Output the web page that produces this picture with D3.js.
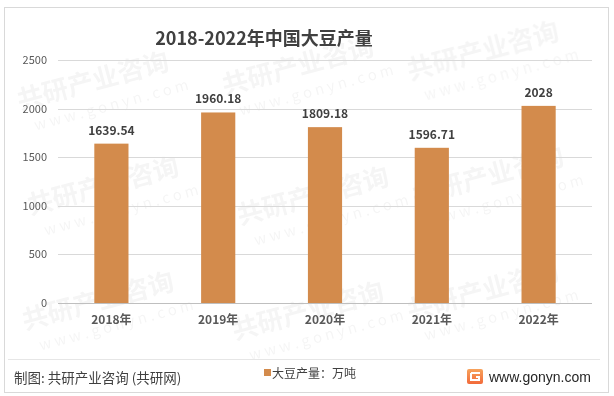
<!DOCTYPE html>
<html>
<head>
<meta charset="utf-8">
<script src="https://cdn.jsdelivr.net/npm/d3@7"></script>
<style>
  body { margin: 0; background: #fff; }
  text { font-family: "Noto Sans CJK SC", "Noto Sans", sans-serif; }
</style>
</head>
<body>
<div id="chart"></div>
<script>
  var w = 614,
      h = 396;

  // data
  var years = ["2018年", "2019年", "2020年", "2021年", "2022年"];
  var output = [1639.54, 1960.18, 1809.18, 1596.71, 2028];
  var labels = ["1639.54", "1960.18", "1809.18", "1596.71", "2028"];
  var yTicks = [0, 500, 1000, 1500, 2000, 2500];

  var svg = d3.select("#chart").append("svg")
      .attr("width", w)
      .attr("height", h);

  // outer frame
  svg.append("rect")
      .attr("x", 4.5).attr("y", 7.5)
      .attr("width", 604).attr("height", 385)
      .attr("fill", "#fff")
      .attr("stroke", "#d9d9d9");

  // faint watermarks, kept inside the frame
  var marks = [[20, 110], [225, 95], [410, 80], [30, 215], [240, 225], [415, 205], [25, 330], [235, 340], [410, 320]];
  var wm = svg.append("g").attr("opacity", 0.04);
  marks.forEach(function(m) {
    var g = wm.append("g").attr("transform", "translate(" + m[0] + "," + m[1] + ") rotate(-15)");
    g.append("text").text("共研产业咨询")
        .attr("font-size", 26).attr("font-weight", "bold").attr("fill", "#000");
    g.append("text").text("w w w . g o n y n . c o m")
        .attr("x", 10).attr("y", 24)
        .attr("font-size", 15).attr("fill", "#000");
  });

  var x = d3.scaleBand().domain(years).range([58, 592]).paddingInner(0.68).paddingOuter(0.34);
  var y = d3.scaleLinear().domain([0, 2500]).range([303, 60]);

  // gridlines
  svg.append("g").selectAll("line").data(yTicks)
    .enter().append("line")
      .attr("x1", 58).attr("x2", 592)
      .attr("y1", function(d) { return Math.round(y(d)) + 0.5; })
      .attr("y2", function(d) { return Math.round(y(d)) + 0.5; })
      .attr("stroke", function(d) { return d === 0 ? "#bfbfbf" : "#d9d9d9"; });

  // y axis labels
  var yAxis = d3.axisLeft(y).tickValues(yTicks).tickFormat(d3.format("d")).tickSize(0).tickPadding(0);
  svg.append("g").attr("transform", "translate(47,0)")
      .call(yAxis)
      .call(function(g) { g.select(".domain").remove(); })
      .selectAll("text")
      .attr("font-size", 11)
      .attr("fill", "#595959")
      .style("font-family", "\"Noto Sans CJK SC\", sans-serif");

  // x axis labels
  var xAxis = d3.axisBottom(x).tickSize(0).tickPadding(0);
  svg.append("g").attr("transform", "translate(0,315)")
      .call(xAxis)
      .call(function(g) { g.select(".domain").remove(); })
      .selectAll("text")
      .attr("font-size", 12)
      .attr("font-weight", "bold")
      .attr("fill", "#595959")
      .style("font-family", "\"Noto Sans CJK SC\", sans-serif");

  // bars
  svg.append("g").selectAll("rect").data(output)
    .enter().append("rect")
      .attr("x", function(d, i) { return x(years[i]); })
      .attr("y", function(d) { return y(d); })
      .attr("width", x.bandwidth())
      .attr("height", function(d) { return y(0) - y(d); })
      .attr("fill", "#d38b4c");

  // value labels
  svg.append("g").selectAll("text").data(output)
    .enter().append("text")
      .attr("x", function(d, i) { return x(years[i]) + x.bandwidth() / 2; })
      .attr("y", function(d) { return y(d) - 9; })
      .attr("text-anchor", "middle")
      .attr("font-size", 12)
      .attr("font-weight", "bold")
      .attr("fill", "#404040")
      .text(function(d, i) { return labels[i]; });

  // title
  svg.append("text")
      .attr("x", 264).attr("y", 45)
      .attr("text-anchor", "middle")
      .attr("font-size", 18)
      .attr("font-weight", "bold")
      .attr("fill", "#404040")
      .text("2018-2022年中国大豆产量");

  // footer separator
  svg.append("line")
      .attr("x1", 8).attr("x2", 600)
      .attr("y1", 359.5).attr("y2", 359.5)
      .attr("stroke", "#e6e6e6");

  svg.append("text")
      .attr("x", 14).attr("y", 383)
      .attr("font-size", 13.5)
      .attr("fill", "#404040")
      .text("制图: 共研产业咨询 (共研网)");

  // legend
  svg.append("rect")
      .attr("x", 264).attr("y", 369)
      .attr("width", 7).attr("height", 7)
      .attr("fill", "#d38b4c");
  svg.append("text")
      .attr("x", 272).attr("y", 378)
      .attr("font-size", 12)
      .attr("fill", "#404040")
      .text("大豆产量：万吨");

  // logo
  var grad = svg.append("defs").append("linearGradient")
      .attr("id", "lg").attr("x1", 0).attr("y1", 0).attr("x2", 0).attr("y2", 1);
  grad.append("stop").attr("offset", 0).attr("stop-color", "#f7a35c");
  grad.append("stop").attr("offset", 1).attr("stop-color", "#f26a3a");
  svg.append("rect")
      .attr("x", 467).attr("y", 369)
      .attr("width", 16).attr("height", 15)
      .attr("rx", 2)
      .attr("fill", "url(#lg)");
  svg.append("path")
      .attr("d", "M471,373 h9 M471,373 v7 h8 v-3 h-3")
      .attr("fill", "none")
      .attr("stroke", "#fff")
      .attr("stroke-width", 2);

  svg.append("text")
      .attr("x", 489).attr("y", 382)
      .attr("font-size", 14)
      .attr("fill", "#262626")
      .style("font-family", "\"Liberation Sans\", Arial, sans-serif")
      .text("www.gonyn.com");
</script>
</body>
</html>
